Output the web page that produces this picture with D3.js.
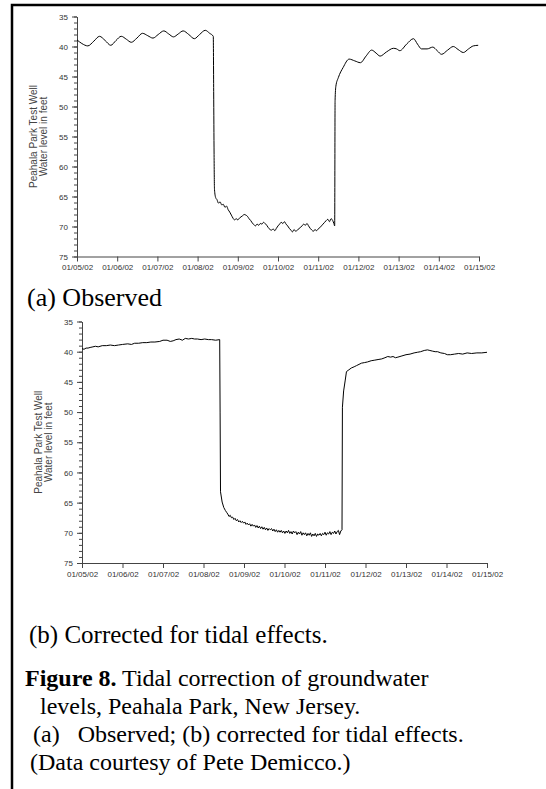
<!DOCTYPE html>
<html>
<head>
<meta charset="utf-8">
<script src="https://cdn.jsdelivr.net/npm/d3@7"></script>
<style>
  body { margin: 0; background: #fff; }
  svg { display: block; }
</style>
</head>
<body>
<div id="fig"></div>
<script>
// days after 01/05/02 00:00 and water level (ft below surface)
var obsDays = [0.00,0.12,0.27,0.42,0.56,0.70,0.84,0.97,1.10,1.23,1.35,1.49,1.63,1.76,1.89,2.02,2.16,2.28,2.40,2.52,2.64,2.78,2.92,3.05,3.19,3.30,3.39,3.40,3.41,3.42,
  3.45,3.48,3.52,3.56,3.60,3.64,3.68,3.72,3.76,3.80,3.84,3.88,3.92,3.96,4.00,4.04,4.08,4.12,4.16,4.20,4.24,4.28,4.32,4.36,4.40,4.44,4.48,4.52,4.56,4.60,
  4.64,4.68,4.72,4.76,4.80,4.84,4.88,4.92,4.96,5.00,5.04,5.08,5.12,5.16,5.20,5.24,5.28,5.32,5.36,5.40,5.44,5.48,5.52,5.56,5.60,5.64,5.68,5.72,5.76,5.80,
  5.84,5.88,5.92,5.96,6.00,6.04,6.08,6.12,6.16,6.20,6.24,6.28,6.32,6.36,6.39,6.41,6.42,6.44,6.50,6.62,6.77,6.91,7.05,7.19,7.33,7.44,7.54,7.70,7.87,7.95,
  8.03,8.20,8.37,8.47,8.57,8.71,8.85,8.96,9.07,9.22,9.36,9.48,9.61,9.74,9.86,9.98];
var obsLevel = [38.9,39.5,39.9,39.1,38.3,39.0,39.8,39.0,38.3,38.8,39.3,38.6,37.8,38.2,38.6,38.0,37.4,37.9,38.4,37.9,37.4,38.0,38.7,38.0,37.3,37.8,38.3,47.5,58.0,63.8,
  65.2,65.5,66.1,65.9,66.4,66.3,66.8,66.6,67.2,67.6,68.1,68.6,68.9,68.7,68.9,68.6,68.4,68.2,68.0,68.1,68.3,68.7,69.0,69.4,69.7,69.9,69.6,69.8,69.5,69.6,
  69.3,69.5,69.8,70.2,70.5,70.6,70.4,70.7,70.3,69.9,69.6,69.3,69.5,69.2,69.6,69.9,70.3,70.6,70.9,70.5,70.8,70.6,70.4,70.1,69.9,69.6,69.8,69.5,69.9,70.3,
  70.6,70.8,70.5,70.7,70.4,70.2,69.9,69.6,69.3,69.0,68.8,69.2,68.7,69.0,69.5,69.9,49.0,46.6,45.2,43.5,42.1,42.4,42.7,41.6,40.6,41.1,41.6,40.9,40.3,40.4,
  40.7,39.6,38.7,39.6,40.4,40.4,40.1,40.7,41.3,40.6,40.0,40.5,41.0,40.4,39.9,39.8];

var corDays = [0.00,0.05,0.10,0.15,0.20,0.27,0.33,0.40,0.50,0.60,0.70,0.80,0.90,1.00,1.13,1.22,1.30,1.40,1.50,1.60,1.70,1.80,1.92,2.00,2.10,2.18,2.25,2.32,2.40,2.48,
  2.55,2.63,2.71,2.78,2.85,2.94,3.03,3.12,3.20,3.30,3.40,3.41,
  3.42,3.46,3.50,3.54,3.57,3.60,3.63,3.66,3.69,3.72,3.75,3.78,3.81,3.84,3.87,3.90,3.93,3.96,3.99,4.02,4.05,4.08,4.11,4.14,4.17,4.20,4.23,4.26,4.29,4.32,
  4.35,4.38,4.41,4.44,4.47,4.50,4.53,4.56,4.59,4.62,4.65,4.68,4.71,4.74,4.77,4.80,4.83,4.86,4.89,4.92,4.95,4.98,5.01,5.04,5.07,5.10,5.13,5.16,5.19,5.22,
  5.25,5.28,5.31,5.34,5.37,5.40,5.43,5.46,5.49,5.52,5.55,5.58,5.61,5.64,5.67,5.70,5.73,5.76,5.79,5.82,5.85,5.88,5.91,5.94,5.97,6.00,6.03,6.06,6.09,6.12,
  6.15,6.18,6.21,6.24,6.27,6.30,6.33,6.36,6.39,6.42,
  6.43,6.46,6.50,6.53,6.59,6.65,6.72,6.78,6.84,6.90,6.98,7.05,7.14,7.23,7.31,7.40,7.48,7.55,7.62,7.68,7.74,7.80,7.90,8.00,8.10,8.20,8.28,8.36,8.45,8.53,
  8.59,8.65,8.72,8.78,8.86,8.95,9.02,9.10,9.20,9.30,9.40,9.51,9.62,9.75,9.87,10.0];
var corLevel = [39.5,39.6,39.4,39.4,39.3,39.2,39.1,39.2,39.0,39.0,38.9,39.0,38.9,38.8,38.7,38.8,38.6,38.6,38.5,38.5,38.4,38.4,38.3,38.1,38.1,38.3,38.2,38.0,37.9,38.1,
  37.8,37.9,37.8,37.9,37.9,38.0,37.9,38.0,38.0,38.1,38.0,50.0,
  63.2,64.9,65.8,66.3,66.6,66.9,67.3,67.1,67.5,67.4,67.8,67.6,68.0,67.8,68.2,68.0,68.3,68.1,68.4,68.2,68.6,68.4,68.7,68.5,68.9,68.6,68.9,68.7,69.1,68.8,
  69.2,68.9,69.3,69.0,69.4,69.1,69.5,69.2,69.6,69.3,69.5,69.3,69.7,69.4,69.8,69.5,69.9,69.6,69.9,69.6,70.0,69.7,70.1,69.7,70.0,69.6,70.1,69.8,70.2,69.7,
  70.0,69.8,70.3,69.9,70.2,69.8,70.4,70.0,70.3,70.0,70.5,70.1,70.4,70.0,70.6,70.2,70.5,70.1,70.6,70.2,70.4,70.1,70.5,70.1,70.3,69.9,70.4,70.0,70.2,69.8,
  70.3,69.9,70.1,69.7,70.2,69.8,69.6,70.3,69.7,69.5,
  49.2,46.5,44.7,43.3,43.0,42.7,42.5,42.3,42.1,41.9,41.8,41.7,41.5,41.4,41.3,41.2,41.0,40.8,40.9,40.8,41.0,40.9,40.7,40.5,40.4,40.2,40.1,40.0,39.8,39.7,
  39.8,39.9,40.0,40.0,40.2,40.3,40.5,40.5,40.4,40.3,40.4,40.2,40.3,40.2,40.2,40.1];

var yTicks = [35,40,45,50,55,60,65,70,75];
var xTickDays = [0,1,2,3,4,5,6,7,8,9,10];
var startDate = new Date(2002, 0, 5);

var titleLines = ["Peahala Park Test Well", "Water level in feet"];
var captions = ["(a) Observed", "(b) Corrected for tidal effects."];

var W = 546, H = 789;
var svg = d3.select("#fig").append("svg")
  .attr("width", W)
  .attr("height", H)
  .style("font-family", "'Liberation Sans', Arial, sans-serif");

svg.append("rect").attr("width", W).attr("height", H).attr("fill", "#fff");

// page frame (top and left rules)
svg.append("path")
  .attr("d", "M12," + H + "V5H" + W)
  .attr("fill", "none")
  .attr("stroke", "#000")
  .attr("stroke-width", 2.5);

var fmt = d3.timeFormat("%m/%d/%y");

function toDate(d) {
  return new Date(startDate.getTime() + d * 86400000);
}

function drawPanel(box, days, levels, curve) {
  var x = d3.scaleTime()
    .domain([startDate, toDate(10)])
    .range([box.left, box.right]);
  var y = d3.scaleLinear()
    .domain([35, 75])
    .range([box.top, box.bottom]);

  var g = svg.append("g");

  // minor y ticks every foot
  g.append("g")
    .attr("transform", "translate(" + box.left + ",0)")
    .call(d3.axisLeft(y).tickValues(d3.range(35, 76, 1)).tickSize(3).tickFormat(""))
    .call(function(a) { a.select(".domain").remove(); });

  var ya = g.append("g")
    .attr("transform", "translate(" + box.left + ",0)")
    .call(d3.axisLeft(y).tickValues(yTicks).tickSize(5).tickPadding(4).tickSizeOuter(0));
  ya.selectAll("text").style("font-size", "8px").attr("fill", "#333");

  var xa = g.append("g")
    .attr("transform", "translate(0," + box.bottom + ")")
    .call(d3.axisBottom(x).tickValues(xTickDays.map(toDate)).tickFormat(fmt).tickSize(5).tickPadding(3).tickSizeOuter(0));
  xa.selectAll("text").style("font-size", "8px").attr("fill", "#333");

  g.selectAll(".domain, .tick line").attr("stroke", "#444");

  var t = g.append("text")
    .attr("transform", "translate(" + (box.left - 40) + "," + ((box.top + box.bottom) / 2) + ") rotate(-90)")
    .attr("text-anchor", "middle")
    .attr("fill", "#444")
    .style("font-size", "10px");
  t.selectAll("tspan").data(titleLines).enter().append("tspan")
    .attr("x", 0)
    .attr("dy", function(d, i) { return i == 0 ? 0 : 10; })
    .text(function(d) { return d; });

  var pts = days.map(function(d, i) { return [toDate(d), levels[i]]; });
  var line = d3.line()
    .x(function(d) { return x(d[0]); })
    .y(function(d) { return y(d[1]); })
    .curve(curve);

  g.append("path")
    .datum(pts)
    .attr("d", line)
    .attr("fill", "none")
    .attr("stroke", "#000")
    .attr("stroke-width", 1);
}

drawPanel({left: 77, right: 479, top: 16.5, bottom: 256.5}, obsDays, obsLevel, d3.curveMonotoneX);
drawPanel({left: 82, right: 487, top: 321.5, bottom: 563}, corDays, corLevel, d3.curveLinear);

var serif = "'Liberation Serif', 'Times New Roman', serif";

svg.append("text").attr("x", 27).attr("y", 306)
  .style("font-family", serif).style("font-size", "26px").text(captions[0]);
svg.append("text").attr("x", 29).attr("y", 643)
  .style("font-family", serif).style("font-size", "25px").text(captions[1]);

var cap = svg.append("g").style("font-family", serif).style("font-size", "24px");
var c1 = cap.append("text").attr("x", 25).attr("y", 686);
c1.append("tspan").style("font-weight", "bold").text("Figure 8.");
c1.append("tspan").text(" Tidal correction of groundwater");
cap.append("text").attr("x", 40).attr("y", 714).text("levels, Peahala Park, New Jersey.");
cap.append("text").attr("x", 33).attr("y", 742).attr("xml:space", "preserve").text("(a)   Observed; (b) corrected for tidal effects.");
cap.append("text").attr("x", 30).attr("y", 770).text("(Data courtesy of Pete Demicco.)");
</script>
</body>
</html>
